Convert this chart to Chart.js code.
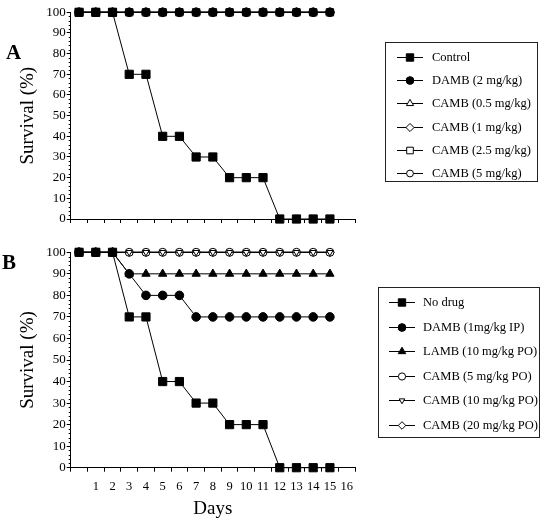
<!DOCTYPE html>
<html>
<head>
<meta charset="utf-8">
<script src="https://cdn.jsdelivr.net/npm/chart.js@4.4.1/dist/chart.umd.min.js"></script>
<style>
    body { margin: 0; background: #fff; }
    #wrap { position: relative; width: 549px; height: 524px; font-family: "Liberation Serif", "Times New Roman", serif; color: #000; }
    #wrap canvas.chart { position: absolute; left: 0; }
    .panel-label { position: absolute; font-weight: bold; font-size: 21px; line-height: 1; }
    .legend { position: absolute; border: 1px solid #222; box-sizing: border-box; }
    .legend .row { position: absolute; left: 0; right: 0; font-size: 12.5px; }
    .legend .row canvas { position: absolute; }
    .legend .row span { position: absolute; white-space: nowrap; line-height: 14px; }
</style>
</head>
<body>
<div id="wrap">
    <canvas id="chartA" class="chart" width="549" height="240" style="top:0"></canvas>
    <canvas id="chartB" class="chart" width="549" height="284" style="top:240px"></canvas>
    <div class="panel-label" style="left:6px; top:42px">A</div>
    <div class="panel-label" style="left:2px; top:252px">B</div>
    <div id="legendA" class="legend" style="left:385px; top:42px; width:153px; height:140px"></div>
    <div id="legendB" class="legend" style="left:378px; top:287px; width:162px; height:151px"></div>
</div>
<script>
// Days 0..15 plotted; the axis runs to 16, day 0 has no label
const dayLabels = ['', '1', '2', '3', '4', '5', '6', '7', '8', '9', '10', '11', '12', '13', '14', '15', '16'];

// Panel A
const namesA = ['Control', 'DAMB (2 mg/kg)', 'CAMB (0.5 mg/kg)', 'CAMB (1 mg/kg)', 'CAMB (2.5 mg/kg)', 'CAMB (5 mg/kg)'];
const controlA = [100, 100, 100, 70, 70, 40, 40, 30, 30, 20, 20, 20, 0, 0, 0, 0];
const dambA = [100, 100, 100, 100, 100, 100, 100, 100, 100, 100, 100, 100, 100, 100, 100, 100];
const camb05A = [100, 100, 100, 100, 100, 100, 100, 100, 100, 100, 100, 100, 100, 100, 100, 100];
const camb1A = [100, 100, 100, 100, 100, 100, 100, 100, 100, 100, 100, 100, 100, 100, 100, 100];
const camb25A = [100, 100, 100, 100, 100, 100, 100, 100, 100, 100, 100, 100, 100, 100, 100, 100];
const camb5A = [100, 100, 100, 100, 100, 100, 100, 100, 100, 100, 100, 100, 100, 100, 100, 100];

// Panel B
const namesB = ['No drug', 'DAMB (1mg/kg IP)', 'LAMB (10 mg/kg PO)', 'CAMB (5 mg/kg PO)', 'CAMB (10 mg/kg PO)', 'CAMB (20 mg/kg PO)'];
const noDrugB = [100, 100, 100, 70, 70, 40, 40, 30, 30, 20, 20, 20, 0, 0, 0, 0];
const dambB = [100, 100, 100, 90, 80, 80, 80, 70, 70, 70, 70, 70, 70, 70, 70, 70];
const lambB = [100, 100, 100, 90, 90, 90, 90, 90, 90, 90, 90, 90, 90, 90, 90, 90];
const camb5B = [100, 100, 100, 100, 100, 100, 100, 100, 100, 100, 100, 100, 100, 100, 100, 100];
const camb10B = [100, 100, 100, 100, 100, 100, 100, 100, 100, 100, 100, 100, 100, 100, 100, 100];
const camb20B = [100, 100, 100, 100, 100, 100, 100, 100, 100, 100, 100, 100, 100, 100, 100, 100];

const FONT = '"Liberation Serif", "Times New Roman", serif';

// marker styles: [pointStyle, radius, rotation, filled, draw order (lower = on top)]
const markersA = [
    ['rect', 5.8, 0, true, 0],
    ['circle', 4.3, 0, true, 1],
    ['triangle', 4.6, 0, false, 2],
    ['rectRot', 4.5, 0, false, 3],
    ['rect', 5.2, 0, false, 4],
    ['circle', 3.8, 0, false, 5]
];
const markersB = [
    ['rect', 5.8, 0, true, 0],
    ['circle', 4.3, 0, true, 1],
    ['triangle', 4.8, 0, true, 2],
    ['circle', 4.0, 0, false, 4],
    ['triangle', 3.6, 180, false, 3],
    ['rectRot', 4.2, 0, false, 5]
];

function makeDatasets(names, series, markers) {
    return series.map(function(values, i) {
        const m = markers[i];
        return {
            label: names[i],
            data: values,
            order: m[4],
            borderColor: '#000',
            borderWidth: 1,
            pointStyle: m[0],
            pointRadius: m[1],
            pointRotation: m[2],
            pointBackgroundColor: m[3] ? '#000' : '#fff',
            pointBorderColor: '#000',
            pointBorderWidth: 1,
            tension: 0,
            clip: false
        };
    });
}

// small minor ticks every 2% on the y axis
const minorTicks = {
    id: 'minorTicks',
    afterDraw(chart) {
        const y = chart.scales.y;
        const ctx = chart.ctx;
        ctx.save();
        ctx.strokeStyle = '#000';
        ctx.lineWidth = 1;
        ctx.beginPath();
        for (let v = 0; v <= 100; v += 2) {
            if (v % 10 === 0) continue;
            const py = Math.round(y.getPixelForValue(v)) + 0.5;
            ctx.moveTo(y.right - 2, py);
            ctx.lineTo(y.right, py);
        }
        ctx.stroke();
        ctx.restore();
    }
};

function makeChart(id, datasets, showX, xHeight) {
    return new Chart(document.getElementById(id), {
        type: 'line',
        data: { labels: dayLabels, datasets: datasets },
        options: {
            responsive: false,
            animation: false,
            layout: { padding: { top: 12.3, right: 194, bottom: 0, left: 0 } },
            plugins: { legend: { display: false }, tooltip: { enabled: false } },
            scales: {
                x: {
                    type: 'category',
                    offset: true,
                    grid: { offset: true, drawOnChartArea: false, tickLength: 4, color: '#000' },
                    border: { color: '#000', width: 1 },
                    ticks: {
                        display: showX,
                        autoSkip: false,
                        maxRotation: 0,
                        padding: 8,
                        color: '#000',
                        font: { family: FONT, size: 12.5 }
                    },
                    title: {
                        display: showX,
                        text: 'Days',
                        color: '#000',
                        padding: { top: 0, bottom: 4 },
                        font: { family: FONT, size: 19 }
                    },
                    afterFit: function(scale) { scale.height = xHeight; }
                },
                y: {
                    min: 0,
                    max: 100,
                    grid: { drawOnChartArea: false, tickLength: 4, color: '#000' },
                    border: { color: '#000', width: 1 },
                    ticks: {
                        stepSize: 10,
                        padding: 1,
                        color: '#000',
                        font: { family: FONT, size: 13 }
                    },
                    title: {
                        display: true,
                        text: 'Survival (%)',
                        color: '#000',
                        padding: { top: 17, bottom: 0 },
                        font: { family: FONT, size: 19 }
                    },
                    afterFit: function(scale) { scale.width = 70.7; }
                }
            }
        },
        plugins: [minorTicks]
    });
}

makeChart('chartA', makeDatasets(namesA, [controlA, dambA, camb05A, camb1A, camb25A, camb5A], markersA), false, 21);
makeChart('chartB', makeDatasets(namesB, [noDrugB, dambB, lambB, camb5B, camb10B, camb20B], markersB), true, 56.3);

// legend boxes with line + marker icons
function buildLegend(boxId, names, markers, firstY, step, iconX, textX) {
    const box = document.getElementById(boxId);
    names.forEach(function(name, i) {
        const row = document.createElement('div');
        row.className = 'row';
        row.style.top = (firstY + i * step - 7) + 'px';
        row.style.height = '14px';

        const icon = document.createElement('canvas');
        icon.width = 26;
        icon.height = 14;
        icon.style.left = iconX + 'px';
        icon.style.top = '0px';
        const ctx = icon.getContext('2d');
        ctx.strokeStyle = '#000';
        ctx.lineWidth = 1;
        ctx.beginPath();
        ctx.moveTo(0, 7.5);
        ctx.lineTo(26, 7.5);
        ctx.stroke();
        const m = markers[i];
        ctx.fillStyle = m[3] ? '#000' : '#fff';
        Chart.helpers.drawPoint(ctx, { pointStyle: m[0], radius: m[1] * 0.9, rotation: m[2], borderWidth: 1 }, 13, 7.5);

        const label = document.createElement('span');
        label.textContent = name;
        label.style.left = textX + 'px';
        label.style.top = '0px';

        row.appendChild(icon);
        row.appendChild(label);
        box.appendChild(row);
    });
}

buildLegend('legendA', namesA, markersA, 14, 23.2, 11, 46);
buildLegend('legendB', namesB, markersB, 14, 24.6, 10, 44);
</script>
</body>
</html>
